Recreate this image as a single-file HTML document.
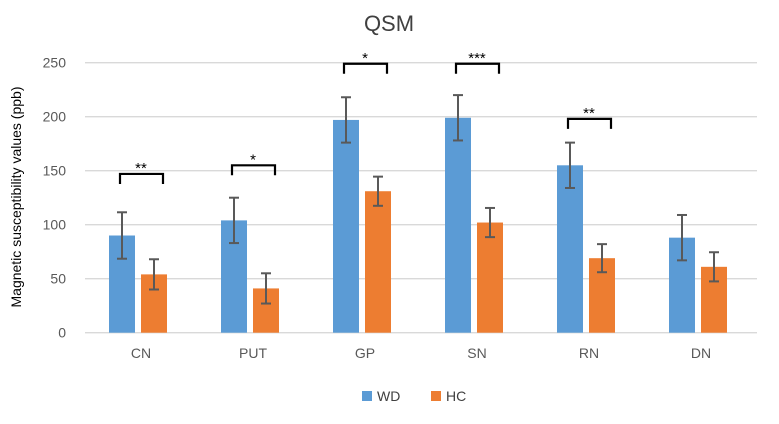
<!DOCTYPE html>
<html><head><meta charset="utf-8"><style>
body{margin:0;background:#fff;font-family:"Liberation Sans",sans-serif}
</style></head><body>
<svg id="chart" width="779" height="419" xmlns="http://www.w3.org/2000/svg" font-family="Liberation Sans, sans-serif">
<rect width="779" height="419" fill="#fff"/>
<text x="389" y="31" text-anchor="middle" font-size="22" fill="#404040">QSM</text>
<text transform="translate(21,197) rotate(-90)" text-anchor="middle" font-size="14" fill="#000">Magnetic susceptibility values (ppb)</text>
<g id="grid"></g><g id="bars"></g><g id="sig"></g>
<g>
<rect x="362" y="391" width="10" height="10" fill="#5B9BD5"/>
<text x="377" y="401" font-size="14" fill="#404040">WD</text>
<rect x="431" y="391" width="10" height="10" fill="#ED7D31"/>
<text x="446" y="401" font-size="14" fill="#404040">HC</text>
</g>
</svg>
<script>
const categories=["CN","PUT","GP","SN","RN","DN"];
const wdValues=[90,104,197,199,155,88];
const wdErr=[21.5,21,21,21,21,21];
const hcValues=[54,41,131,102,69,61];
const hcErr=[14,14,13.5,13.5,13,13.5];
const yTicks=[0,50,100,150,200,250];
const sigLabels=["**","*","*","***","**",""];
const sigLevels=[147,155,249,249,198,0];
const NS="http://www.w3.org/2000/svg";
const x0=85,x1=757,y0=332.7,pxPer=1.08;
const yS=v=>y0-v*pxPer;
const band=(x1-x0)/categories.length;
const cx=i=>x0+band*(i+0.5);
function mk(t,a,p){const e=document.createElementNS(NS,t);for(const k in a)e.setAttribute(k,a[k]);p.appendChild(e);return e;}
const grid=document.getElementById('grid'),bars=document.getElementById('bars'),sig=document.getElementById('sig');
yTicks.forEach(v=>{
 const l=mk('line',{x1:x0,x2:x1,y1:yS(v),y2:yS(v),stroke:'#d9d9d9','stroke-width':1.3},grid);
 
 
 const t=mk('text',{x:66,y:yS(v)+5,'text-anchor':'end','font-size':14,fill:'#595959'},grid);
 t.textContent=v;
 
 
});
categories.forEach((c,i)=>{
 const t=mk('text',{x:cx(i),y:358,'text-anchor':'middle','font-size':14,fill:'#595959'},grid);
 t.textContent=c;
 
 
 [[wdValues,wdErr,'#5B9BD5',-32,'wd'],[hcValues,hcErr,'#ED7D31',0,'hc']].forEach(([vals,errs,col,off,nm])=>{
  const bx=cx(i)+off, w=26, v=vals[i];
  const r=mk('rect',{x:bx,y:yS(v),width:w,height:y0-yS(v),fill:col},bars);
  
  
  const m=bx+w/2,hi=yS(v+errs[i]),lo=yS(v-errs[i]);
  const g=mk('g',{stroke:'#595959','stroke-width':2},bars);
  
  
  mk('line',{x1:m,x2:m,y1:hi,y2:lo},g);
  mk('line',{x1:m-5,x2:m+5,y1:hi,y2:hi},g);
  mk('line',{x1:m-5,x2:m+5,y1:lo,y2:lo},g);
 });
 if(sigLabels[i]){
  const y=yS(sigLevels[i]),a=cx(i)-21,b=cx(i)+22;
  const p=mk('path',{d:`M${a} ${y+10}V${y}H${b}V${y+10}`,fill:'none',stroke:'#000','stroke-width':2.2},sig);
  
  
  const t=mk('text',{x:cx(i),y:y-1,'text-anchor':'middle','font-size':15,fill:'#000'},sig);
  t.textContent=sigLabels[i];
  
  
 }
});
</script>
</body></html>
